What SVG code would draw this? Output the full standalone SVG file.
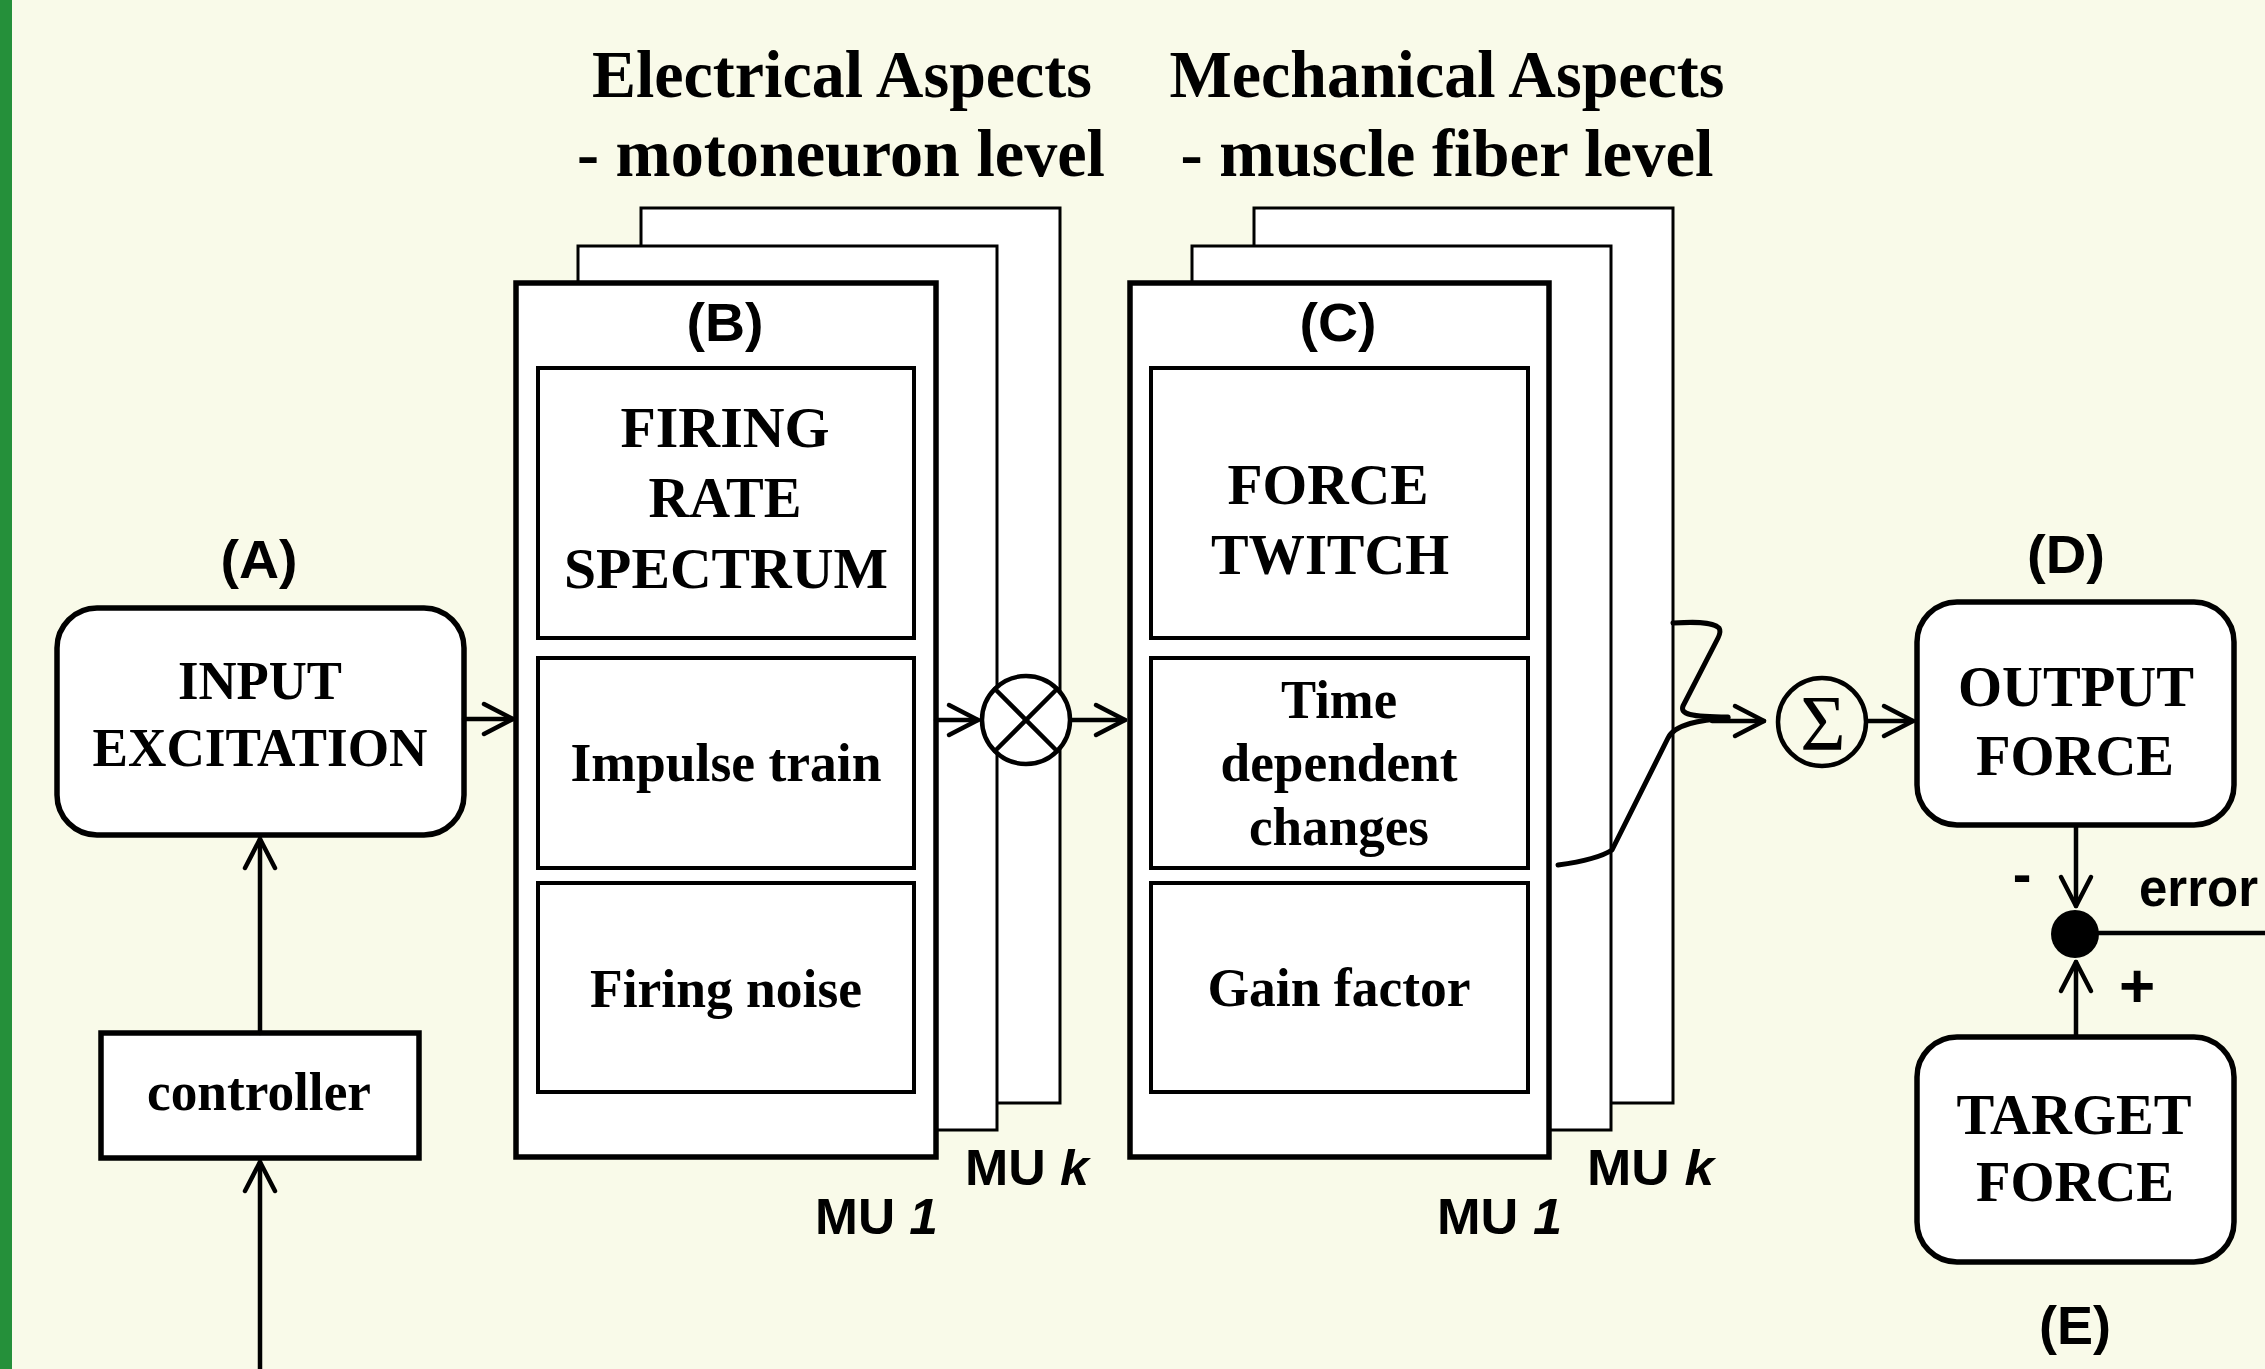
<svg xmlns="http://www.w3.org/2000/svg" width="2265" height="1369" viewBox="0 0 2265 1369">
<defs>
<style>
.bg{fill:#F9FAE9}
.box{fill:#fff;stroke:#000;stroke-width:5.5}
.thin{fill:#fff;stroke:#000;stroke-width:3}
.inner{fill:#fff;stroke:#000;stroke-width:4}
.ln{fill:none;stroke:#000;stroke-width:4.5;stroke-linecap:round;stroke-linejoin:round}
.cv{fill:none;stroke:#000;stroke-width:5;stroke-linecap:round;stroke-linejoin:round}
.serif{font-family:"Liberation Serif","Times New Roman",serif;font-weight:bold;fill:#000}
.sans{font-family:"Liberation Sans",Arial,sans-serif;font-weight:bold;fill:#000}
.ttl{font-size:67px}
.big{font-size:58px}
.med{font-size:54px}
.lbl{font-size:54px}
.mu{font-size:50px}
</style>
<marker id="arr" markerUnits="userSpaceOnUse" markerWidth="40" markerHeight="40" viewBox="-34 -20 40 40" refX="0" refY="0" orient="auto">
<path d="M-29,-15 L0,0 L-29,15" fill="none" stroke="#000" stroke-width="4.5" stroke-linecap="round" stroke-linejoin="round"/>
</marker>
</defs>
<rect class="bg" x="0" y="0" width="2265" height="1369"/>
<rect x="0" y="0" width="12" height="1369" fill="#25903A"/>

<g id="titles">
<text class="serif ttl" x="842" y="97" text-anchor="middle" textLength="500" lengthAdjust="spacingAndGlyphs">Electrical Aspects</text>
<text class="serif ttl" x="841" y="176" text-anchor="middle" textLength="528" lengthAdjust="spacingAndGlyphs">- motoneuron level</text>
<text class="serif ttl" x="1447" y="97" text-anchor="middle" textLength="555" lengthAdjust="spacingAndGlyphs">Mechanical Aspects</text>
<text class="serif ttl" x="1447" y="176" text-anchor="middle" textLength="533" lengthAdjust="spacingAndGlyphs">- muscle fiber level</text>
</g>

<g id="nodeA">
<text class="sans lbl" x="259" y="578" text-anchor="middle" textLength="77" lengthAdjust="spacingAndGlyphs">(A)</text>
<rect class="box" x="57" y="608" width="407" height="227" rx="40" ry="40"/>
<text class="serif" font-size="55" x="260" y="699" text-anchor="middle" textLength="164" lengthAdjust="spacingAndGlyphs">INPUT</text>
<text class="serif" font-size="55" x="260" y="766" text-anchor="middle" textLength="335" lengthAdjust="spacingAndGlyphs">EXCITATION</text>
</g>

<g id="controller">
<rect class="box" x="101" y="1033" width="318" height="125"/>
<text class="serif med" x="259" y="1110" text-anchor="middle" textLength="224" lengthAdjust="spacingAndGlyphs">controller</text>
</g>

<g id="nodeB">
<rect class="thin" x="641" y="208" width="419" height="895"/>
<rect class="thin" x="578" y="246" width="419" height="884"/>
<rect class="box" x="516" y="283" width="420" height="874"/>
<text class="sans lbl" x="725" y="341" text-anchor="middle" textLength="77" lengthAdjust="spacingAndGlyphs">(B)</text>
<rect class="inner" x="538" y="368" width="376" height="270"/>
<text class="serif big" x="725" y="447" text-anchor="middle" textLength="209" lengthAdjust="spacingAndGlyphs">FIRING</text>
<text class="serif big" x="725" y="517" text-anchor="middle" textLength="153" lengthAdjust="spacingAndGlyphs">RATE</text>
<text class="serif big" x="726" y="588" text-anchor="middle" textLength="324" lengthAdjust="spacingAndGlyphs">SPECTRUM</text>
<rect class="inner" x="538" y="658" width="376" height="210"/>
<text class="serif med" x="726" y="781" text-anchor="middle" textLength="311" lengthAdjust="spacingAndGlyphs">Impulse train</text>
<rect class="inner" x="538" y="883" width="376" height="209"/>
<text class="serif med" x="726" y="1007" text-anchor="middle" textLength="272" lengthAdjust="spacingAndGlyphs">Firing noise</text>
<text class="sans mu" x="965" y="1185" textLength="124" lengthAdjust="spacingAndGlyphs">MU <tspan font-style="italic">k</tspan></text>
<text class="sans mu" x="815" y="1234" textLength="123" lengthAdjust="spacingAndGlyphs">MU <tspan font-style="italic">1</tspan></text>
</g>

<g id="nodeC">
<rect class="thin" x="1254" y="208" width="419" height="895"/>
<rect class="thin" x="1192" y="246" width="419" height="884"/>
<rect class="box" x="1130" y="283" width="419" height="874"/>
<text class="sans lbl" x="1338" y="341" text-anchor="middle" textLength="77" lengthAdjust="spacingAndGlyphs">(C)</text>
<rect class="inner" x="1151" y="368" width="377" height="270"/>
<text class="serif big" x="1328" y="504" text-anchor="middle" textLength="201" lengthAdjust="spacingAndGlyphs">FORCE</text>
<text class="serif big" x="1330" y="574" text-anchor="middle" textLength="238" lengthAdjust="spacingAndGlyphs">TWITCH</text>
<rect class="inner" x="1151" y="658" width="377" height="210"/>
<text class="serif med" x="1339" y="718" text-anchor="middle" textLength="116" lengthAdjust="spacingAndGlyphs">Time</text>
<text class="serif med" x="1339" y="781" text-anchor="middle" textLength="237" lengthAdjust="spacingAndGlyphs">dependent</text>
<text class="serif med" x="1339" y="845" text-anchor="middle" textLength="180" lengthAdjust="spacingAndGlyphs">changes</text>
<rect class="inner" x="1151" y="883" width="377" height="209"/>
<text class="serif med" x="1339" y="1006" text-anchor="middle" textLength="263" lengthAdjust="spacingAndGlyphs">Gain factor</text>
<text class="sans mu" x="1587" y="1185" textLength="127" lengthAdjust="spacingAndGlyphs">MU <tspan font-style="italic">k</tspan></text>
<text class="sans mu" x="1437" y="1234" textLength="125" lengthAdjust="spacingAndGlyphs">MU <tspan font-style="italic">1</tspan></text>
</g>

<g id="connectors">
<line class="ln" x1="464" y1="719" x2="513" y2="719" marker-end="url(#arr)"/>
<line class="ln" x1="260" y1="1033" x2="260" y2="839" marker-end="url(#arr)"/>
<line class="ln" x1="260" y1="1369" x2="260" y2="1162" marker-end="url(#arr)"/>
<line class="ln" x1="936" y1="720" x2="978" y2="720" marker-end="url(#arr)"/>
<line class="ln" x1="1071" y1="720" x2="1125" y2="720" marker-end="url(#arr)"/>
<path class="cv" d="M1558,865 C1580,862 1600,858 1612,850 L1668,738 C1675,724 1700,720 1728,718"/>
<path class="cv" d="M1673,623 C1690,622 1712,621 1719,628 C1721,631 1720,634 1718,638 L1683,706 C1680,714 1690,717 1728,717"/>
<line class="ln" x1="1712" y1="721" x2="1764" y2="721" marker-end="url(#arr)"/>
<line class="ln" x1="1867" y1="721" x2="1913" y2="721" marker-end="url(#arr)"/>
<line class="ln" x1="2076" y1="825" x2="2076" y2="906" marker-end="url(#arr)"/>
<line class="ln" x1="2076" y1="1037" x2="2076" y2="962" marker-end="url(#arr)"/>
<line class="ln" x1="2099" y1="933" x2="2265" y2="933"/>
</g>

<g id="multiply">
<circle cx="1026" cy="720" r="44" fill="#fff" stroke="#000" stroke-width="4.5"/>
<line class="ln" x1="995" y1="689" x2="1057" y2="751"/>
<line class="ln" x1="1057" y1="689" x2="995" y2="751"/>
</g>

<g id="sum">
<circle cx="1822" cy="722" r="44" fill="none" stroke="#000" stroke-width="4.5"/>
<text x="1823" y="749" text-anchor="middle" font-family="Liberation Serif, serif" font-size="78" fill="#000">Σ</text>
</g>

<g id="nodeD">
<text class="sans lbl" x="2066" y="573" text-anchor="middle" textLength="78" lengthAdjust="spacingAndGlyphs">(D)</text>
<rect class="box" x="1917" y="602" width="317" height="223" rx="40" ry="40"/>
<text class="serif big" x="2076" y="706" text-anchor="middle" textLength="236" lengthAdjust="spacingAndGlyphs">OUTPUT</text>
<text class="serif big" x="2075" y="775" text-anchor="middle" textLength="198" lengthAdjust="spacingAndGlyphs">FORCE</text>
</g>

<g id="comparator">
<circle cx="2075" cy="934" r="24" fill="#000"/>
<text class="sans" font-size="56" x="2022" y="893" text-anchor="middle">-</text>
<text class="sans" font-size="62" x="2137" y="1007" text-anchor="middle">+</text>
<text class="sans" font-size="53" x="2139" y="906" textLength="119" lengthAdjust="spacingAndGlyphs">error</text>
</g>

<g id="nodeE">
<rect class="box" x="1917" y="1037" width="317" height="225" rx="40" ry="40"/>
<text class="serif big" x="2074" y="1134" text-anchor="middle" textLength="235" lengthAdjust="spacingAndGlyphs">TARGET</text>
<text class="serif big" x="2075" y="1201" text-anchor="middle" textLength="198" lengthAdjust="spacingAndGlyphs">FORCE</text>
<text class="sans lbl" x="2075" y="1344" text-anchor="middle" textLength="72" lengthAdjust="spacingAndGlyphs">(E)</text>
</g>
</svg>
